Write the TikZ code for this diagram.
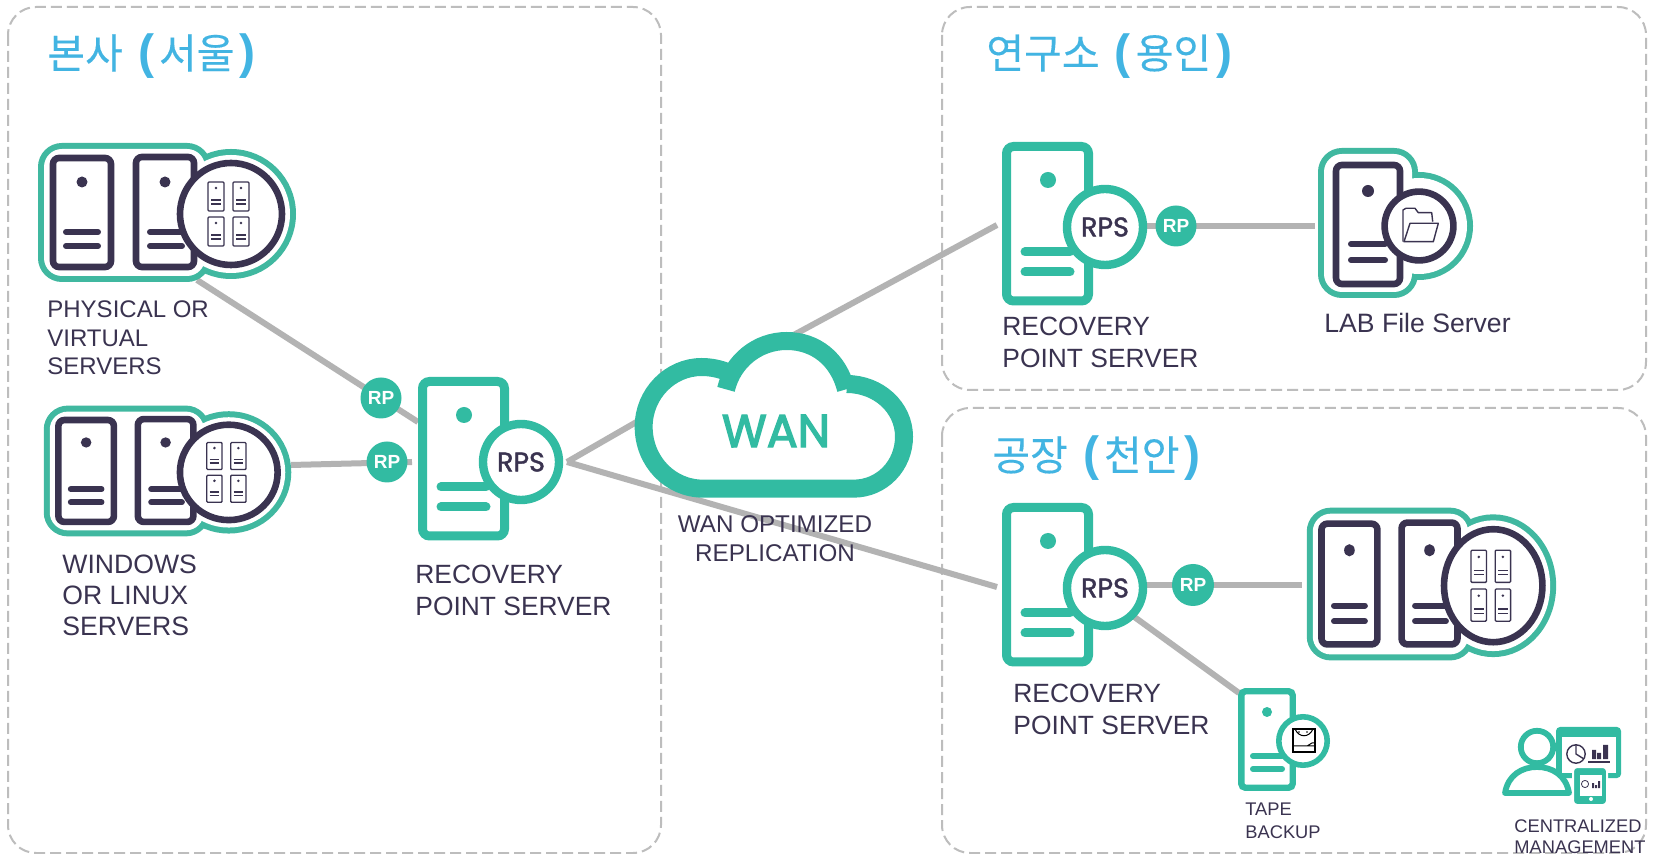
\documentclass[tikz,border=0pt]{standalone}
\usepackage{fontspec}
\setmainfont{Liberation Sans}
\newfontfamily\krfont[FakeBold=0.25]{Noto Sans CJK KR}
\newfontfamily\iconfont[FakeBold=1.6]{Poppins}
\newfontfamily\wanfont[FakeBold=3]{Poppins}
\definecolor{teal}{HTML}{32BBA2}
\definecolor{tealb}{HTML}{40B8A0}
\definecolor{ink}{HTML}{3A3350}
\definecolor{wire}{HTML}{B3B3B3}
\definecolor{zone}{HTML}{BDBDBD}
\definecolor{head}{HTML}{42B4E2}
\tikzset{
  zonebox/.style={draw=zone,line width=1pt,dash pattern=on 5.5pt off 2.5pt,rounded corners=14pt},
  wireline/.style={draw=wire,line width=3pt},
  badge/.style={circle,fill=teal,text=white,inner sep=0pt,minimum size=20.5pt,font=\bfseries\fontsize{9.5}{10}\selectfont},
  title/.style={anchor=west,inner sep=0pt,text=head,font=\krfont\fontsize{20.5}{24}\selectfont},
  lab/.style={anchor=north west,inner sep=0pt,align=left,text=ink},
  tower/.style={draw=teal,fill=white,line width=4.5pt,rounded corners=3.5pt},
  towerline/.style={draw=teal,line width=4.5pt,line cap=round},
  darktower/.style={draw=ink,fill=white,line width=3.3pt,rounded corners=3pt},
  darkline/.style={draw=ink,line width=3pt,line cap=round},
  mini/.style={draw=ink,fill=white,line width=.65pt,rounded corners=.5pt},
  miniline/.style={draw=ink,line width=.6pt},
  halo/.style={draw=tealb,line width=6pt},
  thin/.style={draw=ink,line width=.7pt,line join=round},
  cloudline/.style={draw=teal,line width=9pt},
}
\newcommand{\mytitle}[4]{\node[title] (#1) at (#2,#3) {#4};}
\newcommand{\popen}{\hspace{3pt}{\bfseries\rmfamily\fontsize{24}{24}\selectfont (}\hspace{2.5pt}}
\newcommand{\pclose}{\hspace{2.5pt}{\bfseries\rmfamily\fontsize{24}{24}\selectfont )}}
% server with RPS disc, offset from the left one
\newcommand{\rpsicon}[3]{%
\begin{scope}[shift={(#2,#3)}]
  \draw[tower] (422.5,381.5) rectangle (504.5,536);
  \fill[teal] (464,415) circle[radius=4pt];
  \draw[towerline] (441,487) -- (486,487);
  \draw[towerline] (441,507) -- (486,507);
  \node[circle,draw=teal,fill=white,line width=4.2pt,minimum size=38pt,inner sep=0pt,text=ink,font=\iconfont\fontsize{13.5}{14}\selectfont] (#1) at (521,462) {RPS};
\end{scope}}
% two dark servers with a disc of four small ones
\newcommand{\minisrv}[2]{%
  \draw[mini] (#1,#2) rectangle +(16,29);
  \fill[ink] (#1+8,#2+6) circle[radius=.7pt];
  \draw[miniline] (#1+3,#2+18) -- +(10,0);
  \draw[miniline] (#1+3,#2+22) -- +(10,0);}
\newcommand{\groupicon}[4]{%
\begin{scope}[shift={(#1,#2)},x=#3pt,y=-#4pt]
  \draw[halo] (231,214) circle[radius=59];
  \draw[halo,rounded corners=9pt] (44,149) rectangle (205,276);
  \fill[white] (231,214) circle[radius=59];
  \fill[white,rounded corners=9pt] (44,149) rectangle (205,276);
  \draw[darktower] (53,158) rectangle (111,267);
  \fill[ink] (82,182) circle[radius=5.5];
  \draw[darkline] (66,232) -- (98,232);
  \draw[darkline] (66,246) -- (98,246);
  \draw[darktower] (136,157) rectangle (194,267);
  \fill[ink] (165,182) circle[radius=5.5];
  \draw[darkline] (150,232) -- (182,232);
  \draw[darkline] (150,246) -- (182,246);
  \draw[draw=ink,fill=white,line width=3.3pt] (231,214) circle[radius=51];
  \minisrv{208}{182}\minisrv{233}{182}\minisrv{208}{217}\minisrv{233}{217}
\end{scope}}
\begin{document}
\begin{tikzpicture}[x=0.5pt,y=-0.5pt]
\useasboundingbox (0,0) rectangle (1654,854);
\fill[white] (0,0) rectangle (1654,854);
% regions
\draw[zonebox] (8,7) rectangle (661,853);
\draw[zonebox] (942,7) rectangle (1646,390);
\draw[zonebox] (942,408) rectangle (1646,853);
\mytitle{hq}{47}{56}{본사 \popen 서울\pclose}
\mytitle{lab}{986}{56}{연구소 \popen 용인\pclose}
\mytitle{plant}{992}{458}{공장 \popen 천안\pclose}
% connector ends
\coordinate (g1port) at (197,280);
\coordinate (g2port) at (291,465);
\coordinate (rpsAnw) at (418,422);
\coordinate (rpsAw) at (412,462);
\coordinate (rpsAe) at (567,462);
\coordinate (cloudW) at (640,420);
\coordinate (cloudN) at (790,337);
\coordinate (rpsBw) at (997,225);
\coordinate (rpsCw) at (997,587);
\coordinate (rpsBe) at (1147,226);
\coordinate (fileW) at (1315,226);
\coordinate (rpsCe) at (1147,585);
\coordinate (plantW) at (1302,585);
\coordinate (rpsCs) at (1122,608);
\coordinate (tapeN) at (1239,693);
% connectors
\draw[wireline] (g1port) -- (rpsAnw);
\draw[wireline] (g2port) -- (rpsAw);
\draw[wireline] (rpsAe) -- (cloudW);
\draw[wireline] (rpsAe) -- (rpsCw);
\draw[wireline] (cloudN) -- (rpsBw);
\draw[wireline] (rpsBe) -- (fileW);
\draw[wireline] (rpsCe) -- (plantW);
\draw[wireline] (rpsCs) -- (tapeN);
\node[badge] (rp1) at (381,398) {RP};
\node[badge] (rp2) at (387,462) {RP};
\node[badge] (rp3) at (1176,226) {RP};
\node[badge,minimum size=21pt] (rp4) at (1193,585) {RP};
% cloud
\begin{scope}[shift={(620,320)},x=0.16667pt,y=-0.16667pt]
  \fill[white] (71,320) .. controls (71,222) and (150,141) .. (245,141) .. controls (270,141) and (297,146) .. (320,155) .. controls (350,100) and (413,63) .. (500,63) .. controls (586,63) and (655,117) .. (680,192) .. controls (775,192) and (852,262) .. (852,350) .. controls (852,436) and (786,506) .. (700,506) -- (250,506) .. controls (150,506) and (71,424) .. (71,320) -- cycle;
  \draw[cloudline] (680,192) .. controls (775,192) and (852,262) .. (852,350) .. controls (852,436) and (786,506) .. (700,506) -- (250,506) .. controls (150,506) and (71,424) .. (71,320) .. controls (71,222) and (150,141) .. (245,141) .. controls (270,141) and (297,146) .. (322,156);
  \draw[cloudline] (318,208) .. controls (338,123) and (413,63) .. (500,63) .. controls (586,63) and (655,117) .. (678,208);
\end{scope}
\node[inner sep=0pt,text=teal,font=\wanfont\fontsize{23}{26}\selectfont] (wan) at (776,431) {WAN};
% servers
\rpsicon{rpsA}{0}{0}
\rpsicon{rpsB}{584}{-235}
\rpsicon{rpsC}{584}{126}
\groupicon{0}{0}{0.5}{0.5}
\groupicon{7.63}{272.3}{0.4787}{0.4675}
\groupicon{1270.3}{348.6}{0.4825}{0.554}
% file server
\draw[halo] (1419,226) circle[radius=24pt];
\draw[halo,rounded corners=9pt] (1324,154) rectangle (1412,292);
\fill[white] (1419,226) circle[radius=24pt];
\fill[white,rounded corners=9pt] (1324,154) rectangle (1412,292);
\draw[darktower] (1336,165) rectangle (1400,284);
\fill[ink] (1368,191) circle[radius=3pt];
\draw[darkline] (1351,244) -- (1385,244);
\draw[darkline] (1351,260) -- (1385,260);
\draw[draw=ink,fill=white,line width=3.3pt] (1419,226) circle[radius=17.2pt];
\draw[thin] (1403,241.7) -- (1403,210) -- (1406,208.3) -- (1415,208.3) -- (1418.3,212.7) -- (1431.7,212.7) -- (1432.7,221.7);
\draw[thin] (1410,223.3) -- (1438.3,223.3) -- (1433.3,241.7) -- (1404,241.7) -- cycle;
% tape
\draw[tower,line width=3.2pt,rounded corners=2pt] (1241.3,691.3) rectangle (1292.7,787.7);
\fill[teal] (1267,712) circle[radius=2.5pt];
\draw[towerline,line width=3pt] (1253,756) -- (1282,756);
\draw[towerline,line width=3pt] (1253,769) -- (1282,769);
\draw[draw=teal,fill=white,line width=2.8pt] (1303,741) circle[radius=12.1pt];
\draw[black,line width=.6pt] (1293,729) rectangle (1315,752);
\draw[black,line width=.5pt] (1295,729) .. controls (1299,738) and (1309,738) .. (1313,729);
\draw[black,line width=.5pt] (1293,746) -- (1315,746) (1307,746) -- (1312,743) -- (1315,743);
\fill[black] (1299,732) circle[radius=.4pt] (1307,732) circle[radius=.4pt];
% management
\fill[teal,rounded corners=2pt] (1556,727) rectangle (1621,778);
\fill[white] (1562,737) rectangle (1616,773);
\draw[thin] (1576,754) circle[radius=4.6pt];
\draw[thin] (1576,745) -- (1576,754) -- (1584,759);
\fill[ink] (1592,750) rectangle (1596,759) (1597,753) rectangle (1601,759) (1603,745) rectangle (1608,759);
\draw[thin] (1588,762) -- (1610,762);
\draw[draw=teal,fill=white,line width=2.9pt] (1537,747) circle[radius=8.1pt];
\draw[draw=teal,fill=white,line width=2.9pt,line join=round] (1505,793) .. controls (1508,775) and (1522,767) .. (1537,767) .. controls (1552,767) and (1566,775) .. (1569,793) -- cycle;
\draw[teal,fill=teal,rounded corners=2pt,line width=1pt,draw=white] (1573,767) rectangle (1607,805);
\fill[white] (1580,775) rectangle (1602,796);
\draw[thin,line width=.4pt] (1585,784) circle[radius=1.8pt];
\fill[ink] (1592,783) rectangle (1594,788) (1595,785) rectangle (1597,788) (1598,781) rectangle (1600,788);
\fill[white] (1591,799) circle[radius=1pt];
% labels
\node[lab,font=\fontsize{12}{14.25}\selectfont] (t1) at (47,300.5) {PHYSICAL OR\\VIRTUAL\\SERVERS};
\node[lab,font=\fontsize{13.3}{15.5}\selectfont] (t2) at (62,554.5) {WINDOWS\\OR LINUX\\SERVERS};
\node[lab,font=\fontsize{13.2}{16}\selectfont] (t3) at (415,565) {RECOVERY\\POINT SERVER};
\node[lab,font=\fontsize{13.2}{16}\selectfont] (t4) at (1002,317) {RECOVERY\\POINT SERVER};
\node[lab,font=\fontsize{13.2}{16}\selectfont] (t5) at (1013,684) {RECOVERY\\POINT SERVER};
\node[lab,anchor=north,align=center,font=\fontsize{12.1}{14.5}\selectfont] (t6) at (775,515) {WAN OPTIMIZED\\REPLICATION};
\node[lab,font=\fontsize{13.3}{16}\selectfont] (t7) at (1324,313) {LAB File Server};
\node[lab,font=\fontsize{9.15}{11.5}\selectfont] (t8) at (1245,803) {TAPE\\BACKUP};
\node[lab,font=\fontsize{9.15}{10.5}\selectfont] (t9) at (1514,819) {CENTRALIZED\\MANAGEMENT};
\end{tikzpicture}
\end{document}
